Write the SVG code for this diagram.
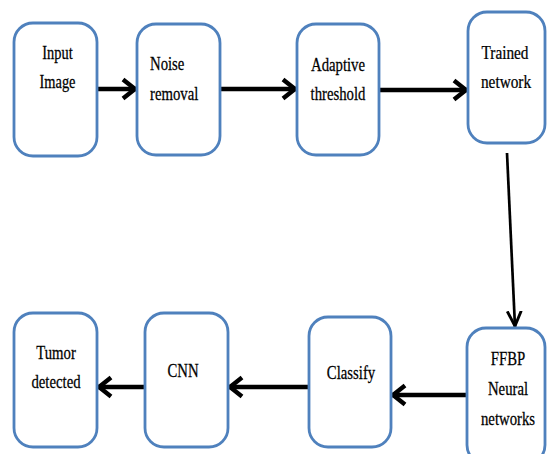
<svg xmlns="http://www.w3.org/2000/svg" width="547" height="454" viewBox="0 0 547 454">
<style>
.box{fill:#fff;stroke:#4F81BD;stroke-width:2.8}
.lbl{font-family:"Liberation Serif","Times New Roman",serif;font-size:18px;fill:#000;stroke:#000;stroke-width:0.25}
.c{fill:none;stroke:#000;stroke-width:4.4}
.thin{fill:none;stroke:#000;stroke-width:2.7}
</style>
<defs>
<marker id="ah" viewBox="-18 -14 22 28" markerUnits="userSpaceOnUse" markerWidth="22" markerHeight="28" refX="0" refY="0" orient="auto">
<path d="M-13,-9.5 L-1,0 L-13,9.5" fill="none" stroke="#000" stroke-width="4.4"/>
</marker>
<marker id="ahs" viewBox="-16 -12 20 24" markerUnits="userSpaceOnUse" markerWidth="20" markerHeight="24" refX="0" refY="0" orient="auto">
<path d="M-16,-7 L-1,0 L-16,7" fill="none" stroke="#000" stroke-width="2.9"/>
</marker>
</defs>
<rect width="547" height="454" fill="#fff"/>
<g id="connectors">
<path class="c" d="M97,89 L136,89" marker-end="url(#ah)"/>
<path class="c" d="M220,89 L296,89" marker-end="url(#ah)"/>
<path class="c" d="M379,90 L467,90" marker-end="url(#ah)"/>
<path class="thin" d="M507,153 L515,327" marker-end="url(#ahs)"/>
<path class="c" d="M467,395 L392,395" marker-end="url(#ah)"/>
<path class="c" d="M309,387 L229,387" marker-end="url(#ah)"/>
<path class="c" d="M145,387 L98,387" marker-end="url(#ah)"/>
</g>
<g id="input">
<rect class="box" x="14" y="23" width="83" height="133" rx="19"/>
<text class="lbl" text-anchor="middle" transform="translate(57.5,59) scale(0.8,1)">Input</text>
<text class="lbl" text-anchor="middle" transform="translate(57.5,88) scale(0.8,1)">Image</text>
</g>
<g id="noise">
<rect class="box" x="137" y="24" width="83" height="131" rx="19"/>
<text class="lbl" transform="translate(150,70) scale(0.82,1)">Noise</text>
<text class="lbl" transform="translate(150,100) scale(0.82,1)">removal</text>
</g>
<g id="adaptive">
<rect class="box" x="297" y="24" width="82" height="131" rx="19"/>
<text class="lbl" text-anchor="middle" transform="translate(338,70.5) scale(0.82,1)">Adaptive</text>
<text class="lbl" text-anchor="middle" transform="translate(338,99.5) scale(0.82,1)">threshold</text>
</g>
<g id="trained">
<rect class="box" x="468" y="12" width="77" height="131" rx="19"/>
<text class="lbl" text-anchor="middle" transform="translate(505,59) scale(0.85,1)">Trained</text>
<text class="lbl" text-anchor="middle" transform="translate(506,88) scale(0.85,1)">network</text>
</g>
<g id="ffbp">
<rect class="box" x="467" y="328" width="78" height="136" rx="19"/>
<text class="lbl" text-anchor="middle" transform="translate(508,365) scale(0.82,1)">FFBP</text>
<text class="lbl" text-anchor="middle" transform="translate(508,395) scale(0.82,1)">Neural</text>
<text class="lbl" text-anchor="middle" transform="translate(508,425) scale(0.82,1)">networks</text>
</g>
<g id="classify">
<rect class="box" x="309" y="317" width="82" height="130" rx="19"/>
<text class="lbl" text-anchor="middle" transform="translate(351,379) scale(0.82,1)">Classify</text>
</g>
<g id="cnn">
<rect class="box" x="145" y="313" width="83" height="134" rx="19"/>
<text class="lbl" text-anchor="middle" transform="translate(183,376.5) scale(0.82,1)">CNN</text>
</g>
<g id="tumor">
<rect class="box" x="14" y="313" width="83" height="134" rx="19"/>
<text class="lbl" text-anchor="middle" transform="translate(56,359) scale(0.82,1)">Tumor</text>
<text class="lbl" text-anchor="middle" transform="translate(56,387.5) scale(0.82,1)">detected</text>
</g>
</svg>
